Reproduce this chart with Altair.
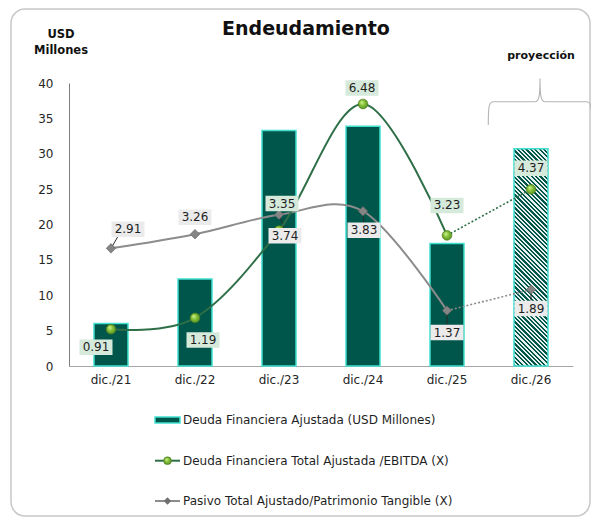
import math
import altair as alt
import pandas as pd

# ---------------- data ----------------
categorias = ["dic./21", "dic./22", "dic./23", "dic./24", "dic./25", "dic./26"]
deuda_ajustada = [6.0, 12.3, 33.3, 33.9, 17.3, 30.7]          # USD Millones (bars)
deuda_ebitda = [0.91, 1.19, 3.35, 6.48, 3.23, 4.37]            # (X)
pasivo_patrimonio = [2.91, 3.26, 3.74, 3.83, 1.37, 1.89]       # (X)
es_proyeccion = [False, False, False, False, False, True]
y_ticks = [0, 5, 10, 15, 20, 25, 30, 35, 40]
y_max = 40
ratio_max = 7.0

titulo = "Endeudamiento"
unidad = ["USD", "Millones"]
etiqueta_proy = "proyección"
leyenda = [
    "Deuda Financiera Ajustada (USD Millones)",
    "Deuda Financiera Total Ajustada /EBITDA (X)",
    "Pasivo Total Ajustado/Patrimonio Tangible (X)",
]

# ---------------- style / layout ----------------
W, H = 504, 283
PAD_L, PAD_T, PAD_R, PAD_B = 61, 75, 18, 151
FONT = "DejaVu Sans"
BAR_PAD = 0.595
TEAL = "#00564b"
CYAN = "#40e0d0"
GREEN_LINE = "#2f6f48"
GRAY_LINE = "#8c8c8c"
GREEN_BG = "#d6eadc"
GRAY_BG = "#ebebeb"
TXT = "#1f1f1f"


def px(x):
    return x - (PAD_L + 8)


def py(y):
    return y - (PAD_T + 8)


bars = pd.DataFrame({"cat": categorias, "deuda": deuda_ajustada, "proy": es_proyeccion})
ratios = pd.DataFrame({
    "cat": categorias * 2,
    "serie": ["ebitda"] * len(categorias) + ["pasivo"] * len(categorias),
    "val": deuda_ebitda + pasivo_patrimonio,
})

x_enc = alt.X(
    "cat:N", sort=categorias,
    scale=alt.Scale(domain=categorias, paddingInner=BAR_PAD, paddingOuter=BAR_PAD / 2),
    axis=alt.Axis(title=None, labelAngle=0, ticks=False, tickSize=0, labelPadding=8,
                  domainColor="#a6a6a6", domainWidth=1, grid=False),
)
y_bar_axis = alt.Axis(values=y_ticks, title=None, ticks=False, tickSize=0, labelPadding=16,
                      grid=False, domainColor="#7f7f7f", domainWidth=1)
y_bar_scale = alt.Scale(domain=[0, y_max], nice=False)
y_r = alt.Y("val:Q", scale=alt.Scale(domain=[0, ratio_max], nice=False), axis=None)

# hatch pattern for projected bar as a striped linear gradient
bw = W / len(categorias) * (1 - BAR_PAD)
bh = deuda_ajustada[-1] / y_max * H
k = (bw + bh) / (bw ** 2 + bh ** 2)
L = (bw + bh) / math.sqrt(2)
period = 3.1
LIGHT = "#e6f0ed"
stops = []
i = 0
while i * period < L:
    o0 = min(1.0, i * period / L)
    om = min(1.0, (i + 0.5) * period / L)
    o1 = min(1.0, (i + 1) * period / L)
    stops += [{"offset": o0, "color": TEAL}, {"offset": om, "color": TEAL},
              {"offset": om, "color": LIGHT}, {"offset": o1, "color": LIGHT}]
    i += 1
hatch = {"gradient": "linear", "x1": 0, "y1": 1, "x2": k * bw, "y2": 1 - k * bh, "stops": stops}

bar_solid = alt.Chart(bars).transform_filter("!datum.proy").mark_bar(
    fill=TEAL, stroke=CYAN, strokeWidth=1.5
).encode(x=x_enc, y=alt.Y("deuda:Q", scale=y_bar_scale, axis=y_bar_axis))
bar_proj = alt.Chart(bars).transform_filter("datum.proy").mark_bar(
    fill=hatch, stroke=CYAN, strokeWidth=1.5
).encode(x=x_enc, y=alt.Y("deuda:Q", scale=y_bar_scale, axis=y_bar_axis))
bars_layer = alt.layer(bar_solid, bar_proj)

sphere = {"gradient": "radial", "x1": 0.35, "y1": 0.3, "r1": 0, "x2": 0.5, "y2": 0.5, "r2": 0.55,
          "stops": [{"offset": 0, "color": "#d8f59a"}, {"offset": 0.45, "color": "#8cc63f"},
                    {"offset": 1, "color": "#4d8a1c"}]}

proj_cats = categorias[-2:]
hist_filter = "datum.cat != '%s'" % categorias[-1]
proj_filter = "indexof(%s, datum.cat) >= 0" % str(proj_cats)

# label leader lines (pixel vector from point toward its label)
leaders = [("pasivo", "dic./21", 7, -12), ("pasivo", "dic./23", 5, 13), ("pasivo", "dic./24", 1, 12),
           ("pasivo", "dic./25", 0, 15), ("pasivo", "dic./26", 0, 11)]

ratio_layers = []
for serie, c, lx, ly in leaders:
    ratio_layers.append(
        alt.Chart(ratios).transform_filter("datum.serie == '%s' && datum.cat == '%s'" % (serie, c))
        .mark_point(shape="M0,0L%.2f,%.2f" % (lx / 10, ly / 10), size=400, filled=False,
                    stroke="#2a2a2a", strokeWidth=1, opacity=1)
        .encode(x=x_enc, y=y_r))

for serie, color in [("pasivo", GRAY_LINE), ("ebitda", GREEN_LINE)]:
    base = alt.Chart(ratios).transform_filter("datum.serie == '%s'" % serie)
    ratio_layers.append(
        base.transform_filter(hist_filter).mark_line(color=color, strokeWidth=2, interpolate="cardinal")
        .encode(x=x_enc, y=y_r))
    ratio_layers.append(
        base.transform_filter(proj_filter).mark_line(color=color, strokeWidth=1.6, strokeDash=[2, 2])
        .encode(x=x_enc, y=y_r))
    if serie == "ebitda":
        ratio_layers.append(base.mark_point(shape="circle", filled=True, fill=sphere, size=95,
                                            stroke="#4b7a1c", strokeWidth=0.6, opacity=1)
                            .encode(x=x_enc, y=y_r))
    else:
        ratio_layers.append(base.mark_point(shape="diamond", filled=True, fill="#858585", size=90,
                                            stroke="#5a5a5a", strokeWidth=0.6, opacity=1)
                            .encode(x=x_enc, y=y_r))

# data label placement (pixel offsets from point)
label_offsets = {
    "ebitda": [(-15, 18), (8, 22), (3, -27), (-1, -16), (0, -30), (0, -21)],
    "pasivo": [(17, -19), (0, -17), (6, 21), (1, 19), (0, 22), (0, 19)],
}
BOX = "M-1,-0.47H1V0.47H-1Z"
for serie, bg in [("pasivo", GRAY_BG), ("ebitda", GREEN_BG)]:
    for c, (dx, dy) in zip(categorias, label_offsets[serie]):
        base = alt.Chart(ratios).transform_filter(
            "datum.serie == '%s' && datum.cat == '%s'" % (serie, c))
        ratio_layers.append(base.mark_point(shape=BOX, size=33 * 33, filled=True, fill=bg,
                                            strokeWidth=0, opacity=1, xOffset=dx, yOffset=dy)
                            .encode(x=x_enc, y=y_r))
        ratio_layers.append(base.mark_text(dx=dx, dy=dy, font=FONT, fontSize=12, color=TXT,
                                           baseline="middle")
                            .encode(x=x_enc, y=y_r, text=alt.Text("val:Q", format=".2f")))
ratio_layer = alt.layer(*ratio_layers)

# ---------------- decorations ----------------
one = pd.DataFrame({"k": [0]})
border = alt.Chart(one).mark_rect(fillOpacity=0, stroke="#c8c8c8", strokeWidth=1.5, cornerRadius=14).encode(
    x=alt.value(px(11)), x2=alt.value(px(590)), y=alt.value(py(9)), y2=alt.value(py(516)))

deco = [border]
deco.append(alt.Chart(one).mark_text(text=titulo, font=FONT, fontSize=19, fontWeight="bold",
                                     color="#111111", align="center", baseline="alphabetic")
            .encode(x=alt.value(px(306)), y=alt.value(py(35))))
for t, yb in zip(unidad, [38, 54]):
    deco.append(alt.Chart(one).mark_text(text=t, font=FONT, fontSize=11.5, fontWeight="bold",
                                         color="#111111", align="center", baseline="alphabetic")
                .encode(x=alt.value(px(61)), y=alt.value(py(yb))))
deco.append(alt.Chart(one).mark_text(text=etiqueta_proy, font=FONT, fontSize=11, fontWeight="bold",
                                     color="#111111", align="center", baseline="alphabetic")
            .encode(x=alt.value(px(541)), y=alt.value(py(59))))
BRACE = ("M-1,0.45 C-1,0.15 -1,0 -0.9,0 L-0.1,0 C-0.02,0 0,-0.1 0,-0.45 "
         "C0,-0.1 0.02,0 0.1,0 L0.9,0 C1,0 1,0.15 1,0.45")
deco.append(alt.Chart(one).mark_point(shape=BRACE, size=103.4 ** 2, filled=False, stroke="#b4b4b4",
                                      strokeWidth=1.1, opacity=1)
            .encode(x=alt.value(px(540)), y=alt.value(py(101.7))))

# legend
leg_y = [420, 460.7, 501]
deco.append(alt.Chart(one).mark_rect(fill=TEAL, stroke=CYAN, strokeWidth=1.5).encode(
    x=alt.value(px(155)), x2=alt.value(px(180)), y=alt.value(py(leg_y[0] - 3)), y2=alt.value(py(leg_y[0] + 3))))
deco.append(alt.Chart(one).mark_rule(color=GREEN_LINE, strokeWidth=2).encode(
    x=alt.value(px(155)), x2=alt.value(px(180)), y=alt.value(py(leg_y[1]))))
deco.append(alt.Chart(one).mark_point(shape="circle", filled=True, fill=sphere, size=60, stroke="#4b7a1c",
                                      strokeWidth=0.6, opacity=1)
            .encode(x=alt.value(px(167.5)), y=alt.value(py(leg_y[1]))))
deco.append(alt.Chart(one).mark_rule(color=GRAY_LINE, strokeWidth=2).encode(
    x=alt.value(px(155)), x2=alt.value(px(180)), y=alt.value(py(leg_y[2]))))
deco.append(alt.Chart(one).mark_point(shape="diamond", filled=True, fill="#6f6f6f", size=55,
                                      strokeWidth=0, opacity=1)
            .encode(x=alt.value(px(167.5)), y=alt.value(py(leg_y[2]))))
for t, yy in zip(leyenda, leg_y):
    deco.append(alt.Chart(one).mark_text(text=t, font=FONT, fontSize=12, color=TXT, align="left",
                                         baseline="middle")
                .encode(x=alt.value(px(183)), y=alt.value(py(yy))))

chart = alt.layer(bars_layer, ratio_layer, *deco).resolve_scale(y="independent").properties(
    width=W, height=H, autosize="none",
    padding={"left": PAD_L, "top": PAD_T, "right": PAD_R, "bottom": PAD_B},
).configure_axis(
    labelFont=FONT, labelFontSize=12, labelColor="#262626"
).configure_view(stroke=None)

chart.save("out.html", embed_options={"renderer": "svg", "actions": False})
